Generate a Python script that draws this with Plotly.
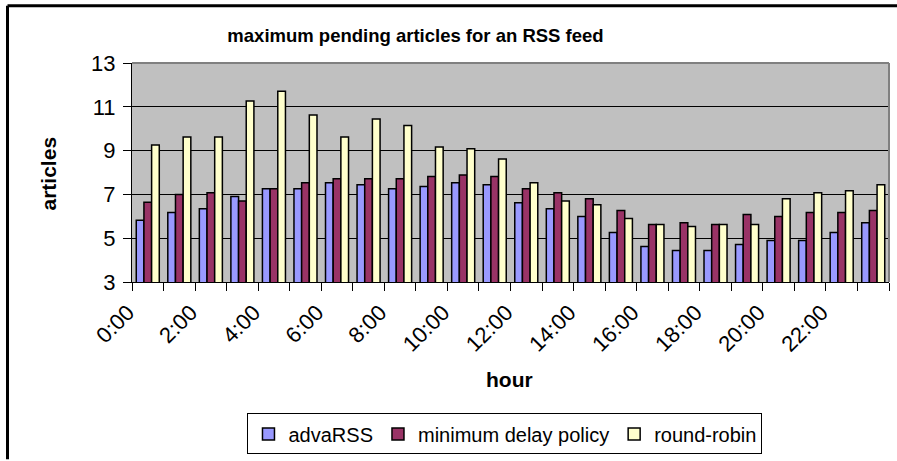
import plotly.graph_objects as go

hours = ["0:00", "1:00", "2:00", "3:00", "4:00", "5:00", "6:00", "7:00",
         "8:00", "9:00", "10:00", "11:00", "12:00", "13:00", "14:00", "15:00",
         "16:00", "17:00", "18:00", "19:00", "20:00", "21:00", "22:00", "23:00"]

advarss = [5.82, 6.17, 6.35, 6.9, 7.26, 7.26, 7.53, 7.44,
           7.26, 7.36, 7.53, 7.44, 6.62, 6.35, 5.99, 5.26,
           4.62, 4.44, 4.44, 4.71, 4.9, 4.9, 5.26, 5.71]
min_delay = [6.64, 7.0, 7.08, 6.7, 7.26, 7.53, 7.71, 7.71,
             7.71, 7.82, 7.89, 7.82, 7.26, 7.08, 6.8, 6.26,
             5.62, 5.71, 5.62, 6.08, 5.99, 6.17, 6.17, 6.26]
round_robin = [9.26, 9.62, 9.62, 11.26, 11.71, 10.62, 9.62, 10.44,
               10.15, 9.17, 9.08, 8.62, 7.53, 6.7, 6.53, 5.9,
               5.62, 5.53, 5.62, 5.62, 6.8, 7.08, 7.17, 7.44]

series_names = ["advaRSS", "minimum delay policy", "round-robin"]
series_colors = ["#9999FF", "#993366", "#FFFFCC"]
y_ticks = [3, 5, 7, 9, 11, 13]

FONT = "Liberation Sans, Arial, sans-serif"
xpos = list(range(len(hours)))

fig = go.Figure()
for name, vals, col in zip(series_names, [advarss, min_delay, round_robin], series_colors):
    fig.add_trace(go.Bar(x=xpos, y=vals, name=name,
                         marker=dict(color=col, line=dict(color="black", width=1.5))))

fig.update_layout(
    width=897, height=461,
    margin=dict(l=132, r=8, t=63, b=178),
    paper_bgcolor="white", plot_bgcolor="#C0C0C0",
    barmode="group", bargap=0.27, bargroupgap=0,
    font=dict(family=FONT, color="black", size=20),
    title=dict(text="maximum pending articles for an RSS feed",
               font=dict(family=FONT, size=18.5, weight="bold", color="black"),
               x=415.5 / 897, xanchor="center", xref="container",
               y=1 - 36 / 461, yanchor="middle", yref="container"),
    showlegend=True,
    legend=dict(orientation="h", x=0.4927, xanchor="center", y=-0.686, yanchor="middle",
                bordercolor="black", borderwidth=1, bgcolor="white",
                font=dict(family=FONT, size=20), traceorder="normal"),
)

fig.update_xaxes(
    range=[-0.5, len(hours) - 0.5],
    tickmode="array", tickvals=xpos[::2], ticktext=hours[::2],
    tickangle=-45, ticks="outside", ticklen=8, tickcolor="rgba(0,0,0,0)",
    ticklabelshift=-20,
    tickfont=dict(family=FONT, size=22),
    showgrid=False, zeroline=False,
    showline=True, linecolor="black", linewidth=1,
    minor=dict(tickmode="linear", tick0=-0.5, dtick=1, ticks="outside",
               ticklen=8, tickcolor="black", tickwidth=1, showgrid=False),
)
fig.update_yaxes(
    range=[3, 13], tickmode="array", tickvals=y_ticks,
    ticks="outside", ticklen=8, tickcolor="black",
    tickfont=dict(family=FONT, size=22), ticklabelstandoff=3,
    showgrid=True, gridcolor="black", gridwidth=1, zeroline=False,
    showline=True, linecolor="black", linewidth=1,
)

# axis titles
fig.add_annotation(text="articles", textangle=-90, xref="paper", yref="paper",
                   x=(48 - 132) / 757, y=(283 - 174) / 220, showarrow=False,
                   font=dict(family=FONT, size=21, weight="bold"),
                   xanchor="center", yanchor="middle")
fig.add_annotation(text="hour", xref="paper", yref="paper",
                   x=(509 - 132) / 757, y=(283 - 381) / 220, showarrow=False,
                   font=dict(family=FONT, size=21, weight="bold"),
                   xanchor="center", yanchor="middle")

# plot-area border (gray top/right)
fig.add_shape(type="line", xref="paper", yref="paper", x0=0, x1=1, y0=1, y1=1,
              line=dict(color="#808080", width=2))
fig.add_shape(type="line", xref="paper", yref="paper", x0=1, x1=1, y0=0, y1=1,
              line=dict(color="#808080", width=2))
# outer chart frame: left edge and top edge only (rest is cropped away)
fx0 = (7.5 - 132) / 757
fy1 = (283 - 5.5) / 220
fig.add_shape(type="line", xref="paper", yref="paper",
              x0=fx0, x1=fx0, y0=(283 - 461) / 220, y1=fy1,
              line=dict(color="black", width=3))
fig.add_shape(type="line", xref="paper", yref="paper",
              x0=fx0, x1=(897 - 132) / 757, y0=fy1, y1=fy1,
              line=dict(color="black", width=3))

fig.write_html("out.html")
